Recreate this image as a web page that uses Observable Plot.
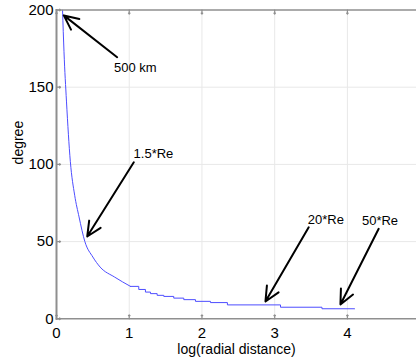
<!DOCTYPE html>
<html>
<head>
<meta charset="utf-8">
<script src="https://cdn.jsdelivr.net/npm/d3@7"></script>
<script src="https://cdn.jsdelivr.net/npm/@observablehq/plot@0.6"></script>
<style>
  html, body { margin: 0; padding: 0; background: #fff; }
  svg { display: block; font-family: "Liberation Sans", Arial, sans-serif; }
</style>
</head>
<body>
<div id="chart"></div>
<script>
// Smooth part of the curve (log radial distance, degree)
const smoothLog = [0.083, 0.103, 0.137, 0.19, 0.25, 0.31, 0.39, 0.5, 0.6, 0.8, 1.017];
const smoothDeg = [200, 173, 141, 102, 80, 66, 50, 40, 33.5, 27, 21];
// Stepped tail (step-after)
const stepLog = [1.017, 1.131, 1.223, 1.292, 1.384, 1.475, 1.612, 1.75, 1.911, 2.117, 2.35, 3.08, 3.65, 4.1];
const stepDeg = [21, 19, 17.3, 16.3, 15.2, 14.5, 13.4, 12.4, 11.3, 10.5, 9, 7.5, 6.5, 6.5];

const xTicks = [0, 1, 2, 3, 4];
const yTicks = [0, 50, 100, 150, 200];

// Annotations: label, text position, arrow tail and head
const annLabel = ["500 km", "1.5*Re", "20*Re", "50*Re"];
const annTextX = [0.79, 1.06, 3.455, 4.2];
const annTextY = [162.7, 106.8, 64.3, 63.2];
const annX1 = [0.834, 1.063, 3.468, 4.43];
const annY1 = [169.4, 101.4, 59.3, 58.3];
const annX2 = [0.1, 0.422, 2.873, 3.904];
const annY2 = [196.5, 53.3, 11.2, 9.3];

const smooth = smoothLog.map((x, i) => ({x, y: smoothDeg[i]}));
const steps = stepLog.map((x, i) => ({x, y: stepDeg[i]}));
const ann = annLabel.map((t, i) => ({t, tx: annTextX[i], ty: annTextY[i], x1: annX1[i], y1: annY1[i], x2: annX2[i], y2: annY2[i]}));

const axisColor = "#8f8f8f";
const gridColor = "#e8e8e8";

const chart = Plot.plot({
  width: 416,
  height: 362,
  marginLeft: 56,
  marginRight: 0,
  marginTop: 9.5,
  marginBottom: 43.7,
  style: {fontFamily: "'Liberation Sans', Arial, sans-serif", fontSize: "14px", color: "black", background: "white"},
  x: {domain: [0, 4.95]},
  y: {domain: [0, 200]},
  marks: [
    Plot.gridX([1, 2, 3, 4], {stroke: gridColor, strokeOpacity: 1}),
    Plot.gridY([50, 100, 150], {stroke: gridColor, strokeOpacity: 1}),
    Plot.line(smooth, {x: "x", y: "y", stroke: "#4d4dff", strokeWidth: 1, curve: "monotone-x", clip: true}),
    Plot.line(steps, {x: "x", y: "y", stroke: "#4d4dff", strokeWidth: 1, curve: "step-after", clip: true}),
    Plot.frame({anchor: "left", stroke: axisColor, strokeWidth: 2}),
    Plot.frame({anchor: "bottom", stroke: axisColor, strokeWidth: 1.5}),
    Plot.frame({anchor: "top", stroke: axisColor, strokeWidth: 1.5}),
    Plot.vector(xTicks, {x: d => d, y: 0, length: 4, rotate: 0, anchor: "start", stroke: axisColor, strokeWidth: 1.2}),
    Plot.vector(xTicks, {x: d => d, y: 200, length: 4, rotate: 180, anchor: "start", stroke: axisColor, strokeWidth: 1.2}),
    Plot.vector(yTicks, {x: 0, y: d => d, length: 4, rotate: 90, anchor: "start", stroke: axisColor, strokeWidth: 1.2}),
    Plot.axisX(xTicks, {tickSize: 0, tickPadding: 9, fontSize: 15, label: null}),
    Plot.axisY(yTicks, {tickSize: 0, tickPadding: 3, fontSize: 15, label: null}),
    Plot.text(["log(radial distance)"], {frameAnchor: "bottom", dy: 31, text: d => d, fontSize: 14, lineAnchor: "middle"}),
    Plot.text(["degree"], {frameAnchor: "left", dx: -38, rotate: -90, text: d => d, fontSize: 14, lineAnchor: "middle"}),
    Plot.arrow(ann, {x1: "x1", y1: "y1", x2: "x2", y2: "y2", stroke: "black", strokeWidth: 2, headLength: 12, headAngle: 50}),
    Plot.text(ann, {x: "tx", y: "ty", text: "t", textAnchor: "start", fontSize: 13, fill: "black", lineAnchor: "middle"})
  ]
});
document.getElementById("chart").appendChild(chart);
</script>
</body>
</html>
